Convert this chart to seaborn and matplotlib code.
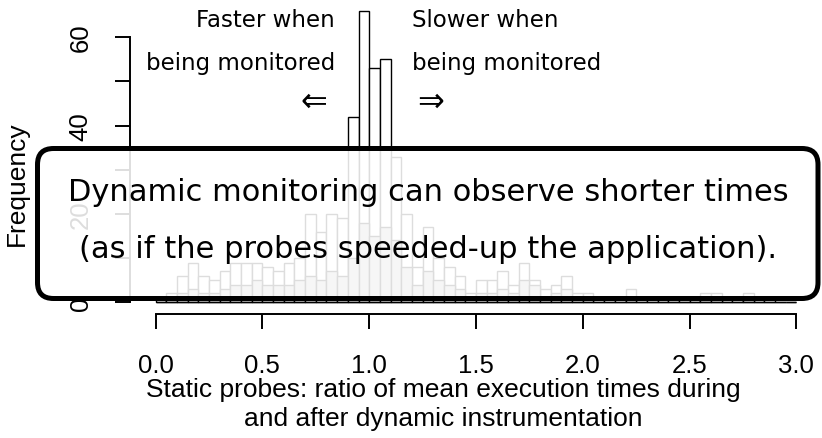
import numpy as np
import pandas as pd
import matplotlib
matplotlib.use("Agg")
import matplotlib.pyplot as plt
import seaborn as sns
from matplotlib.patches import FancyBboxPatch

# histogram counts, bins of 0.05 starting at 0.0
bin_width = 0.05
all_counts = [1, 2, 6, 9, 6, 5, 7, 9, 9, 9,
              8, 7, 9, 10, 20, 16, 20, 19, 42, 66,
              53, 55, 33, 20, 8, 17, 10, 8, 6, 2,
              5, 5, 7, 4, 9, 5, 3, 4, 6, 2,
              2, 1, 1, 1, 3, 1, 1, 1, 1, 1,
              1, 2, 2, 1, 1, 2, 1, 1, 0, 0]
sub_counts = [0, 1, 2, 3, 2, 2, 3, 4, 4, 5,
              4, 4, 4, 5, 6, 5, 7, 6, 10, 18,
              15, 17, 14, 8, 4, 7, 5, 4, 3, 1,
              2, 2, 3, 2, 5, 4, 1, 2, 3, 1,
              1, 0, 0, 0, 1, 0, 0, 0, 0, 0,
              0, 1, 1, 0, 0, 1, 0, 0, 0, 0]

x_ticks = [0.0, 0.5, 1.0, 1.5, 2.0, 2.5, 3.0]
x_tick_labels = ["0.0", "0.5", "1.0", "1.5", "2.0", "2.5", "3.0"]
y_ticks = [0, 10, 20, 30, 40, 50, 60]
y_tick_labels = ["0", "", "20", "", "40", "", "60"]

n_bins = len(all_counts)
df = pd.DataFrame({"ratio": (np.arange(n_bins) + 0.5) * bin_width,
                   "all": all_counts,
                   "sub": sub_counts})

sns.set_theme(style="ticks")
plt.rcParams["font.family"] = ["Liberation Sans", "DejaVu Sans"]
plt.rcParams["text.color"] = "black"
plt.rcParams["xtick.color"] = "black"
plt.rcParams["ytick.color"] = "black"
plt.rcParams["axes.edgecolor"] = "black"

W, H = 822, 439
fig = plt.figure(figsize=(W / 100, H / 100), dpi=100)
ax = fig.add_axes([130 / W, (H - 315) / H, 692 / W, 315 / H])

sns.histplot(data=df, x="ratio", weights="all", binwidth=bin_width,
             binrange=(0, n_bins * bin_width), color="white",
             edgecolor="black", linewidth=1.0, alpha=1, ax=ax)
sns.histplot(data=df, x="ratio", weights="sub", binwidth=bin_width,
             binrange=(0, n_bins * bin_width), color="#bdbdbd",
             edgecolor="black", linewidth=1.0, alpha=1, ax=ax)

ax.set_xlim(-0.12, 3.12)
ax.set_ylim(-2.64, 68.64)
ax.set_facecolor("none")
for s in ["top", "right"]:
    ax.spines[s].set_visible(False)
ax.spines["left"].set_bounds(0, 60)
ax.spines["bottom"].set_bounds(0, 3)
ax.spines["left"].set_linewidth(1.4)
ax.spines["bottom"].set_linewidth(1.4)

ax.set_xticks(x_ticks)
ax.set_xticklabels(x_tick_labels)
ax.set_yticks(y_ticks)
ax.set_yticklabels(y_tick_labels, rotation=90, va="center")
ax.tick_params(axis="both", length=11, width=1.4, labelsize=18.5, color="black", labelcolor="black")
ax.tick_params(axis="x", pad=17)
ax.tick_params(axis="y", pad=16)
ax.set_xlabel("")
ax.set_ylabel("")

fig.text(17 / W, 1 - 184 / H, "Frequency", rotation=90, ha="center", va="center", fontsize=19)
fig.text(443 / W, 1 - 390 / H, "Static probes: ratio of mean execution times during",
         ha="center", va="center", fontsize=19)
fig.text(443 / W, 1 - 419 / H, "and after dynamic instrumentation",
         ha="center", va="center", fontsize=19)

# labels above the peak
latex_font = ["DejaVu Sans"]
fig.text(335 / W, 1 - 26.7 / H, "Faster when", ha="right", va="baseline", fontsize=16.5, family=latex_font)
fig.text(335 / W, 1 - 70 / H, "being monitored", ha="right", va="baseline", fontsize=16.5, family=latex_font)
fig.text(314 / W, 1 - 102 / H, "\u21d0", ha="center", va="center", fontsize=23, family=latex_font)
fig.text(412 / W, 1 - 26.7 / H, "Slower when", ha="left", va="baseline", fontsize=16.5, family=latex_font)
fig.text(412 / W, 1 - 70 / H, "being monitored", ha="left", va="baseline", fontsize=16.5, family=latex_font)
fig.text(431 / W, 1 - 102 / H, "\u21d2", ha="center", va="center", fontsize=23, family=latex_font)

# rounded message box over the histogram
box = FancyBboxPatch((37.5 / 100, (H - 299.5) / 100), (818 - 37.5) / 100, 150 / 100,
                     boxstyle="round,pad=0,rounding_size=0.16",
                     transform=fig.dpi_scale_trans, facecolor=(1, 1, 1, 0.87),
                     edgecolor="black", linewidth=3.6, zorder=5)
fig.patches.append(box)
fig.text(428 / W, 1 - 193 / H, "Dynamic monitoring can observe shorter times",
         ha="center", va="center", fontsize=22, family=latex_font, zorder=6)
fig.text(428 / W, 1 - 250 / H, "(as if the probes speeded-up the application).",
         ha="center", va="center", fontsize=22, family=latex_font, zorder=6)

fig.savefig("out.png", dpi=100)
